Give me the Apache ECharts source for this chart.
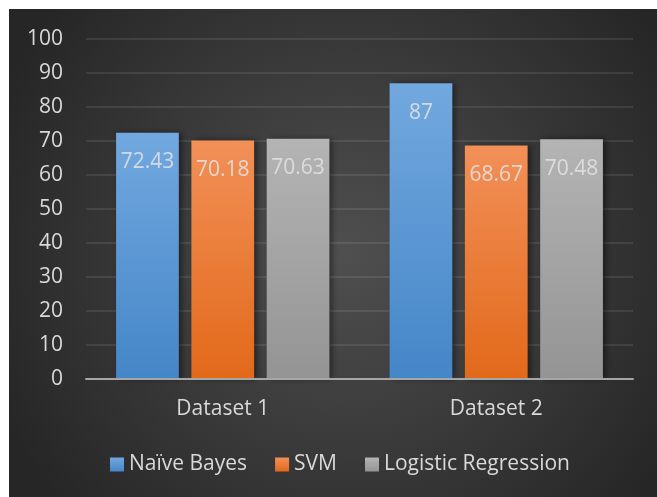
<!DOCTYPE html>
<html>
<head>
<meta charset="utf-8">
<script src="https://cdn.jsdelivr.net/npm/echarts@6/dist/echarts.min.js"></script>
<style>
html,body{margin:0;padding:0;background:#fff;}
#c{width:657px;height:497px;}
</style>
</head>
<body>
<div id="c"></div>
<script>
var categories = ['Dataset 1', 'Dataset 2'];
var seriesNames = ['Naïve Bayes', 'SVM', 'Logistic Regression'];
var naiveBayes = [72.43, 87];
var svm = [70.18, 68.67];
var logistic = [70.63, 70.48];
var yTicks = [0, 10, 20, 30, 40, 50, 60, 70, 80, 90, 100];

var FONT = 'Open Sans';
var TXT = '#d9d9d9';

function grad(top, bottom) {
  return {type: 'linear', x: 0, y: 0, x2: 0, y2: 1,
    colorStops: [{offset: 0, color: top}, {offset: 1, color: bottom}]};
}
var colors = [grad('#72a8df', '#4586c8'), grad('#f29058', '#e2691a'), grad('#b4b4b4', '#949494')];
var dataSets = [naiveBayes, svm, logistic];

var chart = echarts.init(document.getElementById('c'), null, {renderer: 'canvas'});
chart.setOption({
  backgroundColor: '#ffffff',
  animation: false,
  textStyle: {fontFamily: FONT},
  graphic: [{
    type: 'rect', z: -10, silent: true,
    shape: {x: 9, y: 9, width: 648, height: 488},
    style: {fill: {type: 'radial', x: 0.52, y: 0.5, r: 0.78,
      colorStops: [{offset: 0, color: '#4f4f4f'}, {offset: 1, color: '#262626'}]}}
  }],
  grid: {left: 86, right: 24, top: 39, bottom: 118, containLabel: false},
  legend: {
    data: seriesNames, left: 105, top: 449, itemWidth: 14, itemHeight: 14, itemGap: 28,
    icon: 'rect',
    textStyle: {color: TXT, fontSize: 21, fontFamily: FONT}
  },
  xAxis: {
    type: 'category', data: categories, z: 5,
    axisLine: {lineStyle: {color: '#a6a6a6', width: 2}},
    axisTick: {show: false},
    axisLabel: {color: TXT, fontSize: 21, fontFamily: FONT, margin: 20},
    splitLine: {show: false}
  },
  yAxis: {
    type: 'value', min: yTicks[0], max: yTicks[yTicks.length - 1], interval: 10,
    axisLine: {show: false}, axisTick: {show: false},
    axisLabel: {color: TXT, fontSize: 21, fontFamily: FONT, margin: 23},
    splitLine: {lineStyle: {color: 'rgba(255,255,255,0.09)', width: 2}}
  },
  series: seriesNames.map(function (name, i) {
    return {
      name: name, type: 'bar', data: dataSets[i],
      barGap: '20%', barCategoryGap: '22%',
      itemStyle: {color: colors[i], shadowBlur: 6, shadowOffsetX: 3, shadowColor: 'rgba(0,0,0,0.45)'},
      label: {show: true, position: 'insideTop', distance: 19, fontSize: 21, lineHeight: 21,
        fontFamily: FONT, color: 'rgba(225,225,225,0.88)'}
    };
  })
});
</script>
</body>
</html>
